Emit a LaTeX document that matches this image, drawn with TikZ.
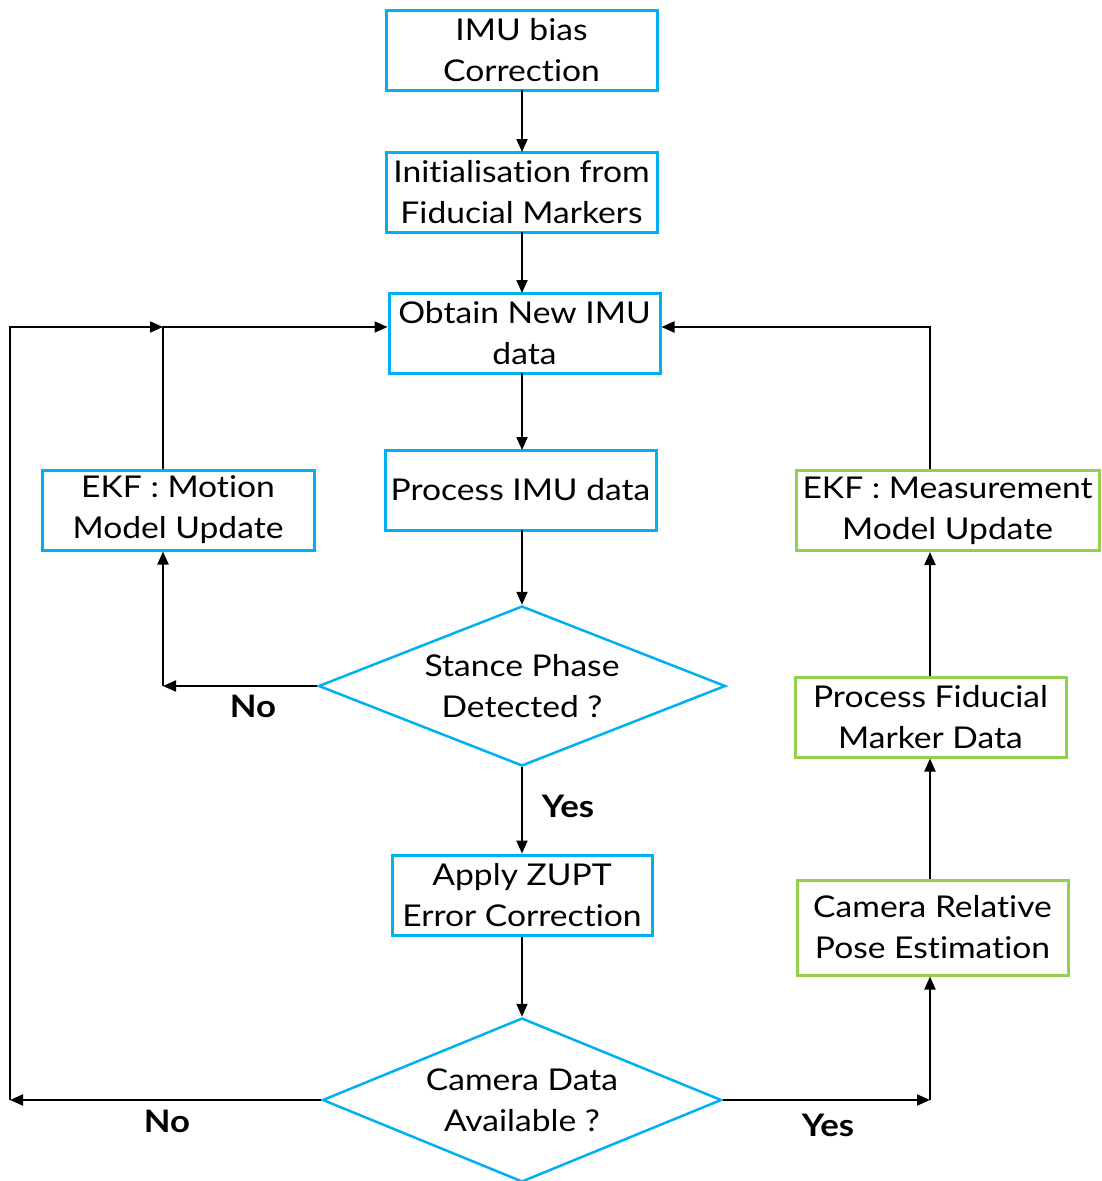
\documentclass[tikz,border=0pt]{standalone}
\usepackage{fontspec}
\setmainfont[Ligatures=NoCommon, FakeStretch=1.12]{Lato}
\usetikzlibrary{shapes.geometric,arrows.meta}
\definecolor{boxblue}{HTML}{00B0F0}
\definecolor{boxgreen}{HTML}{92D050}
\begin{document}
\begin{tikzpicture}[x=1pt,y=-1pt,
  txt/.style={font=\fontsize{30}{41}\selectfont, align=center, inner sep=0pt},
  proc/.style={txt, draw=boxblue, line width=3pt, rectangle, minimum width=#1, minimum height=80pt},
  proc/.default=271pt,
  gproc/.style={txt, draw=boxgreen, line width=3pt, rectangle, minimum width=#1, minimum height=80pt},
  gproc/.default=271pt,
  decide/.style={txt, draw=boxblue, line width=2.5pt, diamond, aspect=2.5},
  flow/.style={-{Triangle[length=13pt,width=11pt]}, line width=2pt},
  lbl/.style={font=\fontsize{31}{36}\selectfont\bfseries, inner sep=0pt}
]
\useasboundingbox (0,0) rectangle (1102,1181);

% main column
\node[proc] (bias) at (521.5,50) {IMU bias\\Correction};
\node[proc] (init) at (521.5,192) {Initialisation from\\Fiducial Markers};
\node[proc] (obtain) at (524.5,333) {Obtain New IMU\\data};
\node[proc] (procimu) at (520.5,490) {Process IMU data};
\node[decide, minimum width=407pt, minimum height=160pt] (stance) at (522,686) {Stance Phase\\Detected ?};
\node[proc=260pt] (zupt) at (522,895) {Apply ZUPT\\Error Correction};
\node[decide, minimum width=399pt, minimum height=164pt] (camera) at (522,1100) {Camera Data\\Available ?};

% left branch
\node[proc=272pt] (motion) at (178,510) {EKF : Motion\\Model Update};

% right branch
\node[gproc=303pt] (meas) at (947.5,510.5) {EKF : Measurement\\Model Update};
\node[gproc] (fid) at (930.5,717) {Process Fiducial\\Marker Data};
\node[gproc, minimum height=95pt] (pose) at (932.5,927.5) {Camera Relative\\Pose Estimation};

% routing points
\coordinate (jl) at (163,327);
\coordinate (far) at (10,327);
\coordinate (jr) at (930,327);
\coordinate (sl) at (163,686);
\coordinate (cl) at (10,1100);
\coordinate (cr) at (930,1100);

% main column connectors
\draw[flow] (522,90) -- (522,152);
\draw[flow] (522,232) -- (522,293);
\draw[flow] (522,373) -- (522,450);
\draw[flow] (522,530) -- (stance.north);
\draw[flow] (stance.south) -- (zupt.north -| stance.south);
\draw[flow] (zupt.south -| camera.north) -- (camera.north);

% stance not detected: motion model update, back to new IMU data
\draw[flow] (stance.west) -- (sl);
\draw[flow] (sl) -- (sl |- motion.south);
\draw[flow] (jl |- motion.north) -- (jl) -- (jl -| obtain.west);

% no camera data: back to new IMU data
\draw[flow] (camera.west) -- (cl);
\draw[flow] (cl) -- (far) -- (jl);

% camera data available: measurement update
\draw[flow] (camera.east) -- (cr);
\draw[flow] (cr) -- (cr |- pose.south);
\draw[flow] (cr |- pose.north) -- (cr |- fid.south);
\draw[flow] (cr |- fid.north) -- (cr |- meas.south);
\draw[flow] (cr |- meas.north) -- (jr) -- (jr -| obtain.east);

% branch labels
\node[lbl] (no1) at (253,706) {No};
\node[lbl] (yes1) at (568,806) {Yes};
\node[lbl] (no2) at (167,1121) {No};
\node[lbl] (yes2) at (828,1125) {Yes};
\end{tikzpicture}
\end{document}
